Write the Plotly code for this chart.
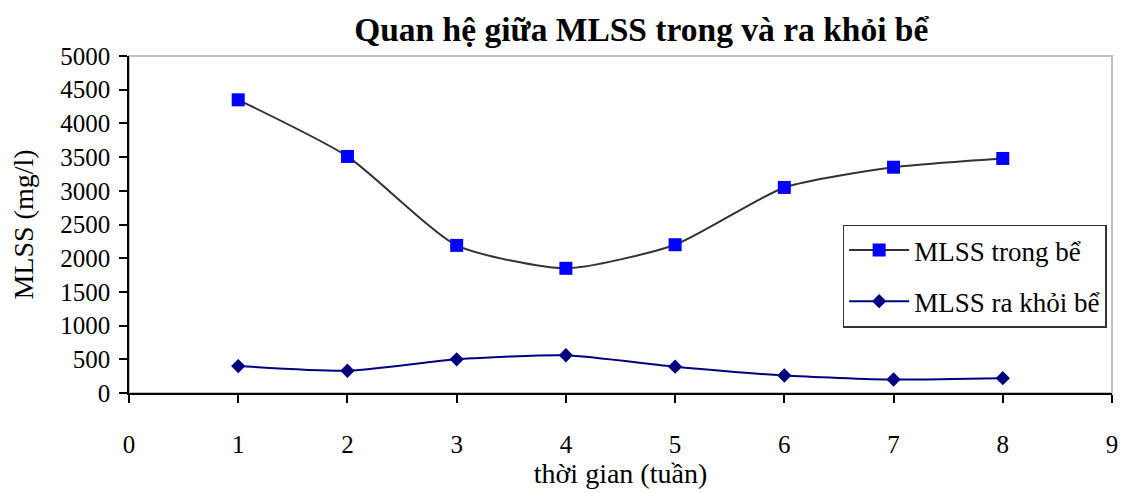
import plotly.graph_objects as go

# Weekly MLSS measurements (mg/l)
weeks = [1, 2, 3, 4, 5, 6, 7, 8]
mlss_in_tank = [4350, 3510, 2190, 1850, 2200, 3050, 3350, 3480]
mlss_out_tank = [400, 330, 500, 560, 390, 260, 200, 220]

x_ticks = [0, 1, 2, 3, 4, 5, 6, 7, 8, 9]
y_ticks = [0, 500, 1000, 1500, 2000, 2500, 3000, 3500, 4000, 4500, 5000]

SERIF = "Liberation Serif"

fig = go.Figure()

fig.add_trace(go.Scatter(
    x=weeks, y=mlss_in_tank, name="MLSS trong bể", legendgroup="in",
    mode="lines+markers",
    line=dict(color="#333333", width=2, shape="spline", smoothing=0.6),
    marker=dict(symbol="square", size=13, color="#0000FF"),
))
fig.add_trace(go.Scatter(
    x=weeks, y=mlss_out_tank, name="MLSS ra khỏi bể", legendgroup="out",
    mode="lines+markers",
    line=dict(color="#000080", width=2, shape="spline", smoothing=0.6),
    marker=dict(symbol="diamond", size=11, color="#000080"),
))

# light grey frame around the plotting area
fig.add_shape(type="rect", xref="paper", yref="paper", x0=0, y0=0, x1=1, y1=1,
              line=dict(color="#c0c0c0", width=2), layer="below")

fig.update_layout(
    width=1127, height=493,
    margin=dict(l=129, r=15, t=56, b=100),
    paper_bgcolor="white", plot_bgcolor="white",
    font=dict(family=SERIF, size=25, color="black"),
    title=dict(text="<b>Quan hệ giữa MLSS trong và ra khỏi bể</b>",
               x=0.569, xanchor="center", y=0.94, yanchor="middle",
               font=dict(family=SERIF, size=33.5, color="black")),
    showlegend=True,
    legend=dict(x=0.726, y=0.347, xanchor="left", yanchor="middle",
                bgcolor="white", bordercolor="#333333", borderwidth=1.5,
                font=dict(family=SERIF, size=27, color="black"),
                itemwidth=60, traceorder="grouped", tracegroupgap=13),
)

fig.update_xaxes(
    range=[0, 9], tickvals=x_ticks, ticktext=[str(v) for v in x_ticks],
    showgrid=False, zeroline=False, automargin=False,
    showline=True, linecolor="black", linewidth=1.5,
    ticks="outside", ticklen=8, tickcolor="black", tickwidth=1.5,
    ticklabelstandoff=20,
    tickfont=dict(family=SERIF, size=25),
    title=dict(text="thời gian (tuần)", standoff=4,
               font=dict(family=SERIF, size=28)),
)
fig.update_yaxes(
    range=[0, 5000], tickvals=y_ticks, ticktext=[str(v) for v in y_ticks],
    showgrid=False, zeroline=False, automargin=False,
    showline=True, linecolor="black", linewidth=1.5,
    ticks="outside", ticklen=8, tickcolor="black", tickwidth=1.5,
    ticklabelstandoff=4,
    tickfont=dict(family=SERIF, size=25),
    title=dict(text="MLSS (mg/l)", standoff=18,
               font=dict(family=SERIF, size=28)),
)

fig.write_html("out.html")
